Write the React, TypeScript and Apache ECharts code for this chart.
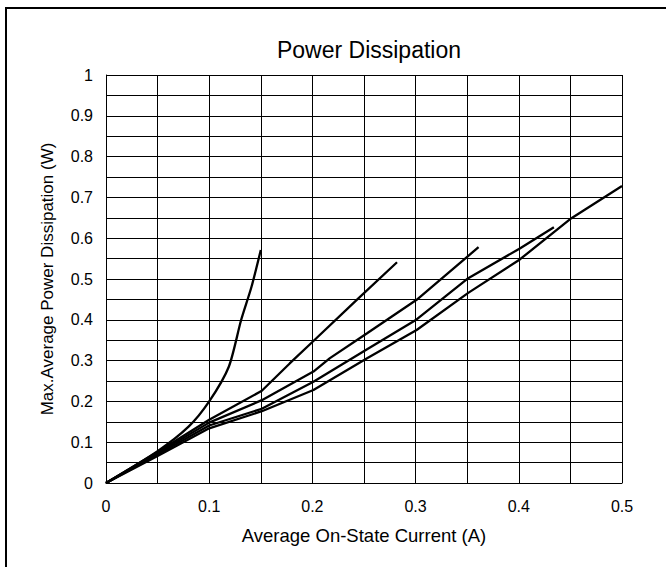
import React, { useEffect, useRef } from "react";
import * as echarts from "echarts";

const titleText = "Power Dissipation";
const xName = "Average On-State Current (A)";
const yName = "Max.Average Power Dissipation (W)";

const curve1 = [[0, 0], [0.05, 0.078], [0.08, 0.138], [0.1, 0.2], [0.119, 0.285], [0.131, 0.4], [0.141, 0.481], [0.15, 0.571]];
const curve2 = [[0, 0], [0.05, 0.076], [0.1, 0.155], [0.151, 0.226], [0.178, 0.293], [0.201, 0.348], [0.243, 0.449], [0.282, 0.541]];
const curve3 = [[0, 0], [0.05, 0.073], [0.1, 0.148], [0.151, 0.203], [0.201, 0.273], [0.217, 0.306], [0.253, 0.367], [0.301, 0.449], [0.361, 0.578]];
const curve4 = [[0, 0], [0.05, 0.07], [0.1, 0.141], [0.151, 0.182], [0.201, 0.248], [0.253, 0.328], [0.301, 0.401], [0.351, 0.502], [0.401, 0.575], [0.434, 0.627]];
const curve5 = [[0, 0], [0.05, 0.066], [0.1, 0.134], [0.151, 0.176], [0.201, 0.228], [0.253, 0.306], [0.301, 0.375], [0.351, 0.466], [0.401, 0.548], [0.451, 0.649], [0.5, 0.728]];
const curves = [curve1, curve2, curve3, curve4, curve5];

const FONT = "'Liberation Sans', Arial, sans-serif";

export default function App() {
  const ref = useRef<HTMLDivElement>(null);
  useEffect(() => {
    if (!ref.current) return;
    const chart = echarts.init(ref.current, undefined, { renderer: "svg" });
    const gridLine = { show: true, lineStyle: { color: "#000", width: 1 } };
    chart.setOption({
      animation: false,
      backgroundColor: "#fff",
      title: {
        text: titleText,
        left: 364,
        top: 33,
        textAlign: "center",
        textStyle: { fontFamily: FONT, fontSize: 23, fontWeight: "normal", color: "#000" },
      },
      grid: { left: 106, top: 75, width: 516, height: 408 },
      xAxis: {
        type: "value",
        min: 0,
        max: 0.5,
        interval: 0.1,
        name: xName,
        nameLocation: "middle",
        nameGap: 43,
        nameTextStyle: { fontFamily: FONT, fontSize: 18.5, color: "#000" },
        axisLine: { show: true, lineStyle: { color: "#000", width: 1 } },
        axisTick: { show: false },
        axisLabel: { margin: 15, fontFamily: FONT, fontSize: 16, color: "#000" },
        splitLine: gridLine,
        minorTick: { show: false, splitNumber: 2 },
        minorSplitLine: gridLine,
      },
      yAxis: {
        type: "value",
        min: 0,
        max: 1,
        interval: 0.1,
        name: yName,
        nameLocation: "middle",
        nameGap: 50,
        nameTextStyle: { fontFamily: FONT, fontSize: 17, color: "#000" },
        axisLine: { show: true, lineStyle: { color: "#000", width: 1 } },
        axisTick: { show: true, inside: true, length: 5, lineStyle: { color: "#000", width: 1 } },
        axisLabel: {
          margin: 13,
          fontFamily: FONT,
          fontSize: 16,
          color: "#000",
          formatter: (v: number) => String(Number(v.toFixed(2))),
        },
        splitLine: gridLine,
        minorTick: { show: false, splitNumber: 2 },
        minorSplitLine: gridLine,
      },
      series: curves.map((c, i) => ({
        type: "line",
        data: c,
        symbol: "none",
        smooth: i === 0 ? 0.25 : false,
        lineStyle: { color: "#000", width: 2.3 },
      })),
      graphic: [
        {
          type: "rect",
          shape: { x: 6, y: 8, width: 700, height: 620 },
          style: { fill: "none", stroke: "#000", lineWidth: 2 },
          silent: true,
        },
      ],
    });
    return () => chart.dispose();
  }, []);
  return (
    <div
      ref={ref}
      style={{ position: "fixed", left: 0, top: 0, width: 666, height: 567, background: "#fff" }}
    />
  );
}
